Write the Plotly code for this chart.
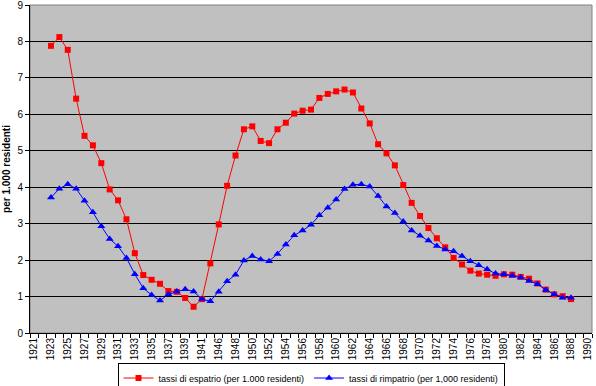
import plotly.graph_objects as go

years = [str(y) for y in range(1921, 1942)] + ["1945"] + [str(y) for y in range(1946, 1991)]

espatrio = [None, None, 7.88, 8.12, 7.77, 6.43, 5.41, 5.15, 4.66, 3.94, 3.64, 3.12, 2.19, 1.59,
            1.46, 1.35, 1.15, 1.13, 0.96, 0.72, 0.93, 1.91, 2.98, 4.04, 4.87, 5.59, 5.67, 5.27,
            5.21, 5.59, 5.77, 6.02, 6.10, 6.13, 6.45, 6.56, 6.63, 6.68, 6.60, 6.16, 5.75, 5.18,
            4.93, 4.60, 4.06, 3.57, 3.21, 2.88, 2.60, 2.35, 2.06, 1.88, 1.71, 1.63, 1.60, 1.57,
            1.61, 1.60, 1.54, 1.49, 1.36, 1.19, 1.06, 1.01, 0.93, None, None]

rimpatrio = [None, None, 3.72, 3.96, 4.08, 3.96, 3.63, 3.31, 2.93, 2.58, 2.38, 2.06, 1.61, 1.23,
             1.04, 0.89, 1.06, 1.14, 1.20, 1.14, 0.93, 0.87, 1.13, 1.42, 1.60, 1.99, 2.11, 2.02,
             1.97, 2.17, 2.43, 2.68, 2.81, 2.97, 3.23, 3.44, 3.66, 3.95, 4.07, 4.08, 4.02, 3.76,
             3.47, 3.29, 3.06, 2.81, 2.67, 2.54, 2.39, 2.29, 2.24, 2.11, 1.97, 1.86, 1.75, 1.63,
             1.61, 1.57, 1.52, 1.43, 1.34, 1.18, 1.06, 0.97, 0.97, None, None]

tick_text = [y if i % 2 == 0 else "" for i, y in enumerate(years)]

FONT = "Liberation Sans, Arial, sans-serif"

fig = go.Figure()
fig.add_trace(go.Scatter(
    x=years, y=espatrio, mode="lines+markers",
    name="tassi di espatrio (per 1.000 residenti)",
    line=dict(color="#FF0000", width=1),
    marker=dict(symbol="square", size=6, color="#FF0000"),
))
fig.add_trace(go.Scatter(
    x=years, y=rimpatrio, mode="lines+markers",
    name="tassi di rimpatrio (per 1,000 residenti)",
    line=dict(color="#0000FF", width=1),
    marker=dict(symbol="triangle-up", size=7, color="#0000FF"),
))

fig.update_layout(
    width=596, height=386,
    margin=dict(l=30, r=4, t=5, b=53, autoexpand=False),
    paper_bgcolor="white",
    plot_bgcolor="#C0C0C0",
    font=dict(family=FONT, size=10, color="black"),
    showlegend=True,
    legend=dict(orientation="h", x=0.5, xanchor="center", y=-0.09, yanchor="top",
                bordercolor="black", borderwidth=1, bgcolor="white",
                font=dict(size=9, family=FONT), tracegroupgap=0),
    xaxis=dict(type="category", categoryorder="array", categoryarray=years,
               range=[-0.5, len(years) - 0.5], automargin=False,
               tickmode="array", tickvals=years, ticktext=tick_text, tickangle=-90,
               ticks="outside", tickson="boundaries", ticklen=4, tickcolor="black",
               showgrid=False, zeroline=False,
               showline=True, linecolor="black", linewidth=1,
               tickfont=dict(size=10, family=FONT), ticklabeloverflow="allow"),
    yaxis=dict(range=[0, 9], dtick=1, tick0=0, showgrid=True, gridcolor="black", gridwidth=1,
               zeroline=False, showline=True, linecolor="black", linewidth=1,
               ticks="outside", ticklen=4, tickcolor="black", automargin=False,
               tickfont=dict(size=10, family=FONT), ticklabeloverflow="allow",
               title=dict(text="<b>per 1.000 residenti</b>", font=dict(size=10, family=FONT),
                          standoff=4)),
    shapes=[dict(type="rect", xref="paper", yref="paper", x0=0, x1=1, y0=0, y1=1,
                 line=dict(color="#808080", width=1), fillcolor="rgba(0,0,0,0)", layer="below")],
)

fig.write_html("out.html", config={"displayModeBar": False},
               post_script="document.body.style.margin='0';document.body.style.padding='0';")
